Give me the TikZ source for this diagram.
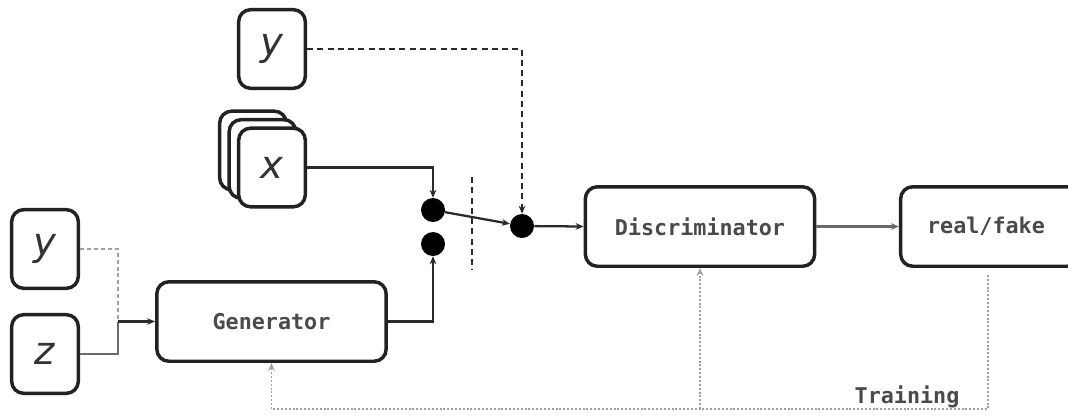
\documentclass[tikz,border=0pt]{standalone}
\usepackage{fontspec}
\newfontfamily\monof{DejaVu Sans Mono}
\newfontfamily\varf{DejaVu Sans}
\usetikzlibrary{arrows.meta}
\definecolor{boxc}{HTML}{222222}
\definecolor{txtc}{HTML}{4A4A4A}
\definecolor{vartxt}{HTML}{333333}
\definecolor{linec}{HTML}{2A2A2A}
\definecolor{softc}{HTML}{6A6A6A}
\definecolor{loopc}{HTML}{A0A0A0}
\tikzset{
  box/.style={draw=boxc, line width=2.6pt, rounded corners=9pt, fill=white,
    inner sep=0pt, text=txtc, font=\monof\bfseries\fontsize{16.3}{18}\selectfont},
  varbox/.style={box, minimum width=50pt, minimum height=59pt, text=vartxt,
    font=\varf\itshape\fontsize{29}{32}\selectfont},
  bigbox/.style={box, minimum width=172pt, minimum height=59.6pt},
  dotnode/.style={circle, fill=black, minimum size=18pt, inner sep=0pt},
  tip/.style={-{Stealth[length=6pt,width=5pt]}},
  conn/.style={line width=1.7pt, draw=linec},
  softconn/.style={line width=1.7pt, draw=softc},
  dash1/.style={dash pattern=on 4.5pt off 3.2pt},
  dash2/.style={dash pattern=on 3pt off 2.2pt},
  loopline/.style={line width=1.4pt, draw=loopc, dash pattern=on 1.5pt off 1.4pt},
  lbl/.style={text=txtc, font=\monof\bfseries\fontsize{16.3}{18}\selectfont, inner sep=0pt}
}
\begin{document}
\begin{tikzpicture}[x=0.75pt,y=-0.75pt]
\useasboundingbox (0,0) rectangle (1068,419);

% inputs: condition y, stacked real samples x
\node[varbox] (ytop) at (272,49) {y};
\node[varbox] (xb3) at (253,150.5) {};
\node[varbox] (xb2) at (262.5,159) {};
\node[varbox] (xb) at (272,167.5) {x};

% generator inputs
\node[varbox] (ylft) at (45,249) {y};
\node[varbox] (z) at (45,354) {z};

% blocks
\node[bigbox] (gen) at (271.5,321.5) {Generator};
\node[bigbox] (disc) at (700,226.5) {Discriminator};
\node[box, minimum width=134pt, minimum height=59.6pt] (rf) at (990,226.5) {\hspace*{-6pt}real/fake};

% switch
\node[dotnode] (d1) at (433,210) {};
\node[dotnode] (d2) at (433,244) {};
\node[dotnode] (d3) at (522,226) {};

\coordinate (join) at (118,321.5);
\coordinate (cutA) at (472,177);
\coordinate (cutB) at (472,270);
\coordinate (bottom) at (0,409);

% connectors
\draw[conn, tip] (xb.east) -| (d1.north);
\draw[conn, dash1, tip] (ytop.east) -| (d3.north);
\draw[conn, tip] (d1) -- (d3);
\draw[conn, tip] (d3) -- (disc.west);
\draw[softconn, tip] (disc.east) -- (rf.west);
\draw[conn, tip] (gen.east) -| (d2.south);
\draw[softconn] (z.east) -| (join);
\draw[softconn, dash2, draw=loopc] (ylft.east) -| (join);
\draw[conn, tip] (join) -- (gen.west);
\draw[conn, dash1] (cutA) -- (cutB);

% training feedback
\draw[loopline, tip] ([shift={(-2,7)}]rf.south) |- (gen.south |- bottom) -- (gen.south);
\draw[loopline, tip] (disc.south |- bottom) -- (disc.south);
\node[lbl] (train) at (907,397) {Training};
\end{tikzpicture}
\end{document}
